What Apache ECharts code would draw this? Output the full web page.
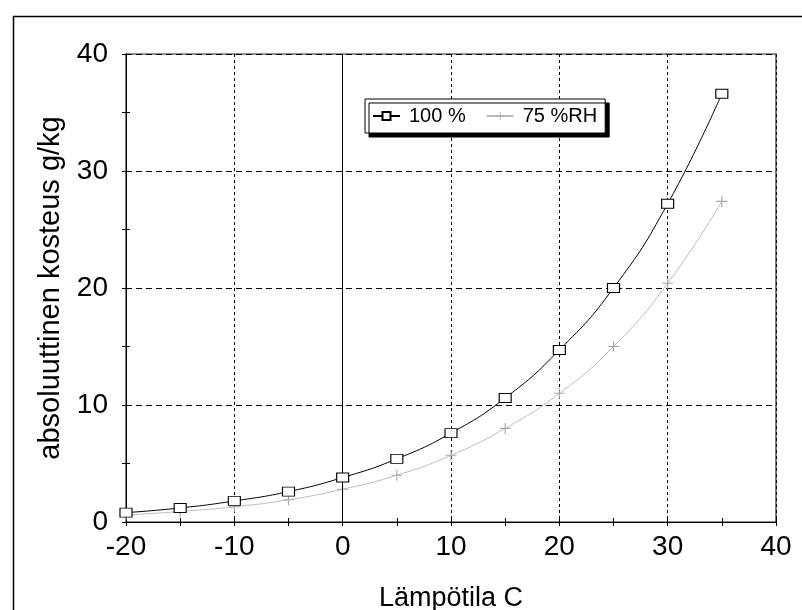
<!DOCTYPE html>
<html>
<head>
<meta charset="utf-8">
<script src="https://cdn.jsdelivr.net/npm/echarts@6/dist/echarts.min.js"></script>
<style>
html,body{margin:0;padding:0;background:#fff;}
#chart{width:802px;height:610px;}
</style>
</head>
<body>
<div id="chart"></div>
<script>
const temps = [-20, -15, -10, -5, 0, 5, 10, 15, 20, 25, 30, 35];
const rh100 = [0.8, 1.2, 1.8, 2.6, 3.8, 5.4, 7.6, 10.6, 14.7, 20.0, 27.2, 36.6];
const rh75 = [0.6, 0.9, 1.3, 1.9, 2.8, 4.0, 5.7, 8.0, 11.0, 15.0, 20.4, 27.4];
const seriesNames = ['100 %', '75 %RH'];
const xTitle = 'Lämpötila C';
const yTitle = 'absoluuttinen kosteus g/kg';

const FONT = '"Liberation Sans", Arial, sans-serif';
const chart = echarts.init(document.getElementById('chart'), null, {renderer: 'canvas'});

function pairs(vals) { return temps.map((t, i) => [t, vals[i]]); }

const tickAxisX = (inside) => ({
  type: 'value', min: -20, max: 40, interval: 5, position: 'bottom', gridIndex: 0,
  axisLine: {show: false, onZero: false}, axisLabel: {show: false}, splitLine: {show: false},
  axisTick: {show: true, inside: inside, length: 4, lineStyle: {color: '#000', width: 1}}
});
const tickAxisY = (inside) => ({
  type: 'value', min: 0, max: 40, interval: 5, position: 'left', gridIndex: 0,
  axisLine: {show: false, onZero: false}, axisLabel: {show: false}, splitLine: {show: false},
  axisTick: {show: true, inside: inside, length: 4, lineStyle: {color: '#000', width: 1}}
});

chart.setOption({
  animation: false,
  backgroundColor: '#fff',
  graphic: [{
    type: 'rect', left: 11, top: 14, z: 100, silent: true,
    shape: {x: 0, y: 0, width: 800, height: 620},
    style: {fill: null, stroke: '#000', lineWidth: 1.5}
  }],
  grid: {left: 126, right: 26, top: 54, bottom: 88, containLabel: false, outerBoundsMode: 'none',
    show: true, borderColor: '#222', borderWidth: 1.2, backgroundColor: 'transparent'},
  legend: {
    left: 365, top: 99,
    data: seriesNames,
    backgroundColor: '#fff', borderColor: '#000', borderWidth: 1,
    shadowColor: '#000', shadowOffsetX: 4, shadowOffsetY: 4, shadowBlur: 0,
    padding: [7, 8, 7, 7], itemGap: 20, itemWidth: 27, itemHeight: 10,
    textStyle: {fontFamily: FONT, fontSize: 20, color: '#000', padding: [0, 0, 0, 4]}
  },
  xAxis: [{
    type: 'value', min: -20, max: 40, interval: 10, position: 'bottom',
    name: xTitle, nameLocation: 'middle', nameGap: 63,
    nameTextStyle: {fontFamily: FONT, fontSize: 27, color: '#000'},
    axisLine: {show: true, onZero: false, lineStyle: {color: '#000', width: 1}},
    axisTick: {show: false},
    axisLabel: {fontFamily: FONT, fontSize: 28, color: '#000', margin: 11},
    splitLine: {show: true, lineStyle: {color: '#000', type: [3, 3], width: 1}}
  }, tickAxisX(false), tickAxisX(true)],
  yAxis: [{
    type: 'value', min: 0, max: 40, interval: 10, position: 'left',
    name: yTitle, nameLocation: 'middle', nameGap: 54, nameRotate: 90,
    nameTextStyle: {fontFamily: FONT, fontSize: 29, color: '#000'},
    axisLine: {show: true, onZero: false, lineStyle: {color: '#000', width: 1}},
    axisTick: {show: false},
    axisLabel: {fontFamily: FONT, fontSize: 28, color: '#000', margin: 18},
    splitLine: {show: true, lineStyle: {color: '#000', type: [6, 4], width: 1}}
  }, tickAxisY(false), tickAxisY(true)],
  series: [{
    name: seriesNames[0], type: 'line', smooth: true, data: pairs(rh100),
    xAxisIndex: 0, yAxisIndex: 0, z: 5,
    symbol: 'rect', symbolSize: [12, 9],
    lineStyle: {color: '#000', width: 1},
    itemStyle: {color: '#fff', borderColor: '#000', borderWidth: 1},
    markLine: {
      silent: true, symbol: 'none', label: {show: false},
      lineStyle: {color: '#000', type: 'solid', width: 1},
      data: [{xAxis: 0}]
    }
  }, {
    name: seriesNames[1], type: 'line', smooth: true, data: pairs(rh75),
    xAxisIndex: 0, yAxisIndex: 0, z: 4,
    symbol: 'path://M4.5,0H5.5V4.5H10V5.5H5.5V10H4.5V5.5H0V4.5H4.5Z', symbolSize: [11, 11],
    lineStyle: {color: '#bdbdbd', width: 1},
    itemStyle: {color: '#a8a8a8', borderWidth: 0}
  }]
});
</script>
</body>
</html>
